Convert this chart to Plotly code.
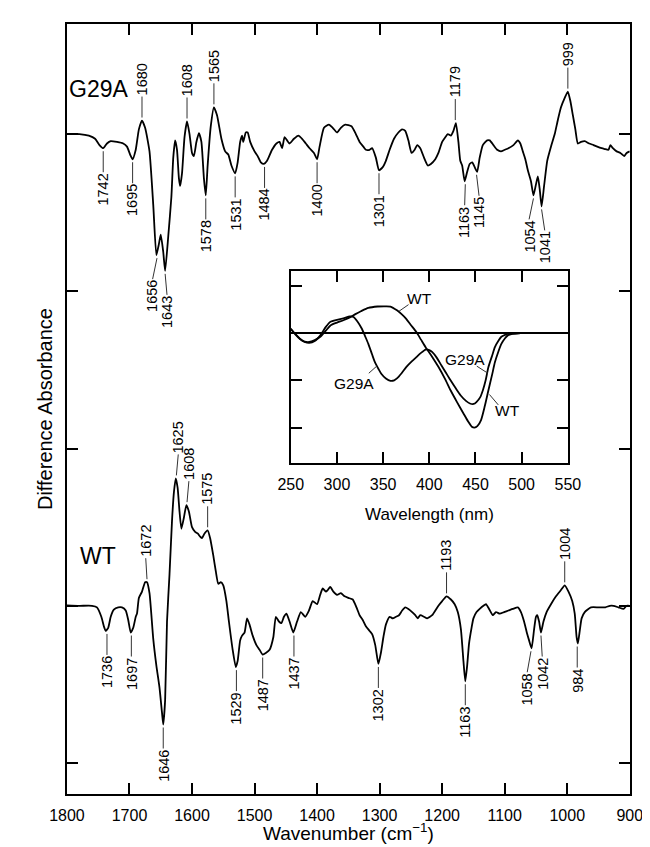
import numpy as np
import plotly.graph_objects as go

# ---------------- main FTIR difference spectra ----------------
g29a_wn = [1800, 1780, 1765, 1755, 1748, 1742, 1736, 1730, 1720, 1710, 1704, 1699, 1695, 1690, 1685, 1680,
           1675, 1668, 1662, 1657, 1653, 1650, 1646, 1643, 1638, 1633, 1630, 1627, 1624, 1621, 1619, 1616,
           1612, 1608, 1604, 1600, 1597, 1593, 1589, 1585, 1581, 1578, 1575, 1570, 1565, 1560, 1553, 1547,
           1542, 1537, 1531, 1527, 1523, 1520, 1518, 1514, 1511, 1507, 1500, 1495, 1490, 1485, 1480, 1472,
           1465, 1460, 1456, 1452, 1448, 1444, 1437, 1430, 1424, 1418, 1412, 1405, 1400, 1396, 1389, 1381,
           1375, 1368, 1362, 1355, 1345, 1338, 1332, 1326, 1322, 1316, 1312, 1306, 1301, 1295, 1290, 1284,
           1277, 1270, 1264, 1259, 1254, 1249, 1244, 1240, 1235, 1229, 1223, 1218, 1211, 1206, 1200, 1195,
           1191, 1186, 1182, 1178, 1174, 1171, 1168, 1164, 1160, 1156, 1152, 1148, 1144, 1140, 1135, 1128,
           1124, 1118, 1112, 1106, 1100, 1094, 1086, 1079, 1075, 1071, 1067, 1063, 1058, 1054, 1050, 1047,
           1044, 1041, 1037, 1032, 1026, 1020, 1015, 1010, 1004, 999, 995, 991, 987, 983, 978, 972,
           965, 958, 952, 945, 940, 934, 931, 927, 921, 915, 909, 905, 900]
g29a_abs = [4.00, 4.00, 3.99, 3.97, 3.93, 3.91, 3.94, 3.955, 3.95, 3.94, 3.92, 3.87, 3.84, 3.90, 4.03, 4.086,
            4.04, 3.89, 3.55, 3.23, 3.30, 3.36, 3.25, 3.13, 3.35, 3.60, 3.85, 3.96, 3.90, 3.72, 3.67, 3.75,
            3.98, 4.08, 4.00, 3.88, 3.86, 3.95, 4.006, 3.95, 3.72, 3.61, 3.80, 4.05, 4.17, 4.12, 3.97, 3.89,
            3.87, 3.80, 3.75, 3.82, 3.95, 3.99, 3.95, 4.01, 4.01, 3.95, 3.89, 3.86, 3.82, 3.81, 3.83, 3.90,
            3.94, 3.95, 3.91, 3.98, 3.96, 3.94, 3.97, 3.99, 3.97, 3.94, 3.91, 3.88, 3.84, 3.92, 4.04, 4.06,
            4.04, 4.01, 4.04, 4.06, 4.05, 4.00, 3.95, 3.92, 3.90, 3.90, 3.91, 3.85, 3.77, 3.79, 3.83, 3.90,
            3.97, 4.01, 4.03, 4.02, 3.96, 3.88, 3.90, 3.93, 3.91, 3.85, 3.80, 3.81, 3.84, 3.88, 3.95, 3.98,
            4.00, 3.99, 4.02, 4.07, 3.95, 3.83, 3.80, 3.70, 3.76, 3.81, 3.82, 3.79, 3.76, 3.85, 3.93, 3.96,
            3.96, 3.93, 3.90, 3.89, 3.90, 3.91, 3.93, 3.96, 3.94, 3.89, 3.84, 3.77, 3.70, 3.61, 3.68, 3.73,
            3.65, 3.54, 3.67, 3.83, 3.92, 4.00, 4.09, 4.17, 4.23, 4.27, 4.21, 4.12, 4.03, 3.94, 3.95, 3.955,
            3.94, 3.93, 3.92, 3.91, 3.905, 3.90, 3.93, 3.91, 3.89, 3.88, 3.86, 3.88, 3.89]

wt_wn = [1800, 1780, 1760, 1752, 1745, 1741, 1738, 1734, 1730, 1725, 1718, 1712, 1706, 1702, 1698, 1694,
         1690, 1688, 1685, 1680, 1675, 1672, 1668, 1662, 1657, 1652, 1648, 1646, 1643, 1640, 1636, 1632,
         1629, 1626, 1623, 1620, 1617, 1613, 1609, 1605, 1600, 1595, 1591, 1587, 1584, 1580, 1575, 1571,
         1566, 1562, 1558, 1554, 1550, 1545, 1541, 1535, 1530, 1527, 1523, 1520, 1516, 1512, 1508, 1503,
         1497, 1492, 1487, 1482, 1476, 1470, 1466, 1461, 1457, 1453, 1449, 1444, 1438, 1432, 1426, 1419,
         1413, 1407, 1400, 1395, 1391, 1386, 1383, 1379, 1374, 1368, 1362, 1356, 1350, 1343, 1337, 1332,
         1327, 1322, 1316, 1312, 1307, 1302, 1298, 1294, 1290, 1284, 1279, 1274, 1269, 1264, 1259, 1254,
         1248, 1243, 1239, 1235, 1229, 1224, 1216, 1206, 1200, 1193, 1186, 1180, 1175, 1170, 1166, 1163,
         1160, 1157, 1153, 1150, 1145, 1140, 1134, 1130, 1125, 1119, 1114, 1108, 1101, 1094, 1087, 1079,
         1074, 1069, 1064, 1061, 1057, 1053, 1050, 1048, 1045, 1042, 1038, 1033, 1026, 1018, 1010, 1004,
         998, 992, 988, 985, 983, 980, 977, 972, 962, 950, 939, 932, 926, 918, 910, 905, 900]
wt_abs = [1.003, 1.00, 1.00, 0.99, 0.93, 0.87, 0.84, 0.86, 0.93, 0.975, 0.99, 0.99, 0.97, 0.91, 0.83, 0.86,
          0.93, 0.95, 1.05, 1.09, 1.15, 1.15, 1.08, 0.79, 0.62, 0.48, 0.32, 0.245, 0.40, 0.90, 1.20, 1.54,
          1.72, 1.81, 1.75, 1.60, 1.49, 1.56, 1.64, 1.60, 1.50, 1.47, 1.46, 1.44, 1.43, 1.46, 1.48, 1.43,
          1.32, 1.22, 1.14, 1.15, 1.13, 1.03, 0.90, 0.72, 0.61, 0.65, 0.78, 0.81, 0.83, 0.92, 0.88, 0.81,
          0.75, 0.72, 0.69, 0.70, 0.72, 0.80, 0.93, 0.90, 0.89, 0.93, 0.95, 0.90, 0.83, 0.90, 0.96, 0.93,
          0.97, 1.03, 1.01, 1.07, 1.11, 1.09, 1.10, 1.12, 1.09, 1.07, 1.08, 1.06, 1.05, 1.04, 0.99, 0.94,
          0.91, 0.87, 0.84, 0.82, 0.75, 0.63, 0.70, 0.80, 0.88, 0.93, 0.92, 0.93, 0.94, 0.97, 0.99, 0.98,
          0.96, 0.94, 0.92, 0.94, 0.93, 0.92, 0.94, 1.00, 1.03, 1.06, 1.04, 1.01, 0.96, 0.85, 0.65, 0.52,
          0.62, 0.76, 0.86, 0.92, 0.96, 0.98, 1.00, 1.01, 0.98, 0.94, 0.96, 0.95, 0.96, 0.97, 0.98, 0.99,
          0.96, 0.90, 0.82, 0.78, 0.73, 0.85, 0.93, 0.94, 0.90, 0.83, 0.90, 0.96, 1.01, 1.06, 1.10, 1.13,
          1.09, 1.03, 0.95, 0.80, 0.76, 0.84, 0.92, 0.96, 0.99, 0.99, 0.99, 1.00, 1.00, 0.99, 0.98, 1.00, 1.00]

# peak labels: band value, label x position, direction (+1 up / -1 down)
g29a_peaks = [1742, 1695, 1680, 1656, 1643, 1608, 1578, 1565, 1531, 1484, 1400, 1301,
              1179, 1163, 1145, 1054, 1041, 999]
g29a_label_pos = [1742, 1695, 1680, 1663, 1640, 1608, 1578, 1565, 1531, 1484, 1400, 1301,
                  1179, 1164, 1141, 1061, 1036, 999]
g29a_dir = [-1, -1, 1, -1, -1, 1, -1, 1, -1, -1, -1, -1, 1, -1, -1, -1, -1, 1]

wt_peaks = [1736, 1697, 1672, 1646, 1625, 1608, 1575, 1529, 1487, 1437, 1302, 1193,
            1163, 1058, 1042, 1004, 984]
wt_label_pos = [1736, 1697, 1674, 1646, 1622, 1605, 1575, 1529, 1487, 1437, 1302, 1193,
                1163, 1064, 1040, 1004, 984]
wt_dir = [-1, -1, 1, -1, 1, 1, 1, -1, -1, -1, -1, 1, -1, -1, -1, 1, -1]

# ---------------- inset: UV-vis difference spectra ----------------
uv_wl_wt = [250, 255, 260, 265, 270, 276, 282, 288, 293, 300, 307, 314, 320, 326, 334, 344, 352, 358,
            365, 370, 375, 380, 386, 391, 396, 403, 410, 417, 423, 430, 437, 442, 446, 449, 452, 456,
            460, 464, 468, 471, 475, 478, 482, 485, 490, 499, 510, 520, 530, 540, 550]
uv_wt = [0.09, -0.02, -0.12, -0.18, -0.19, -0.15, -0.08, 0.05, 0.16, 0.22, 0.27, 0.33, 0.40, 0.46, 0.53,
         0.56, 0.565, 0.56, 0.48, 0.40, 0.30, 0.17, 0.02, -0.14, -0.30, -0.50, -0.72, -0.97, -1.21, -1.46,
         -1.70, -1.87, -1.98, -2.00, -1.97, -1.84, -1.55, -1.21, -0.88, -0.62, -0.38, -0.23, -0.11, -0.05,
         -0.02, 0.0, 0.0, 0.0, 0.0, 0.0, 0.0]
uv_wl_g29a = [250, 255, 260, 265, 270, 276, 282, 288, 293, 300, 307, 314, 318, 322, 327, 331, 334, 338,
              341, 345, 348, 353, 358, 362, 365, 370, 375, 381, 386, 391, 396, 400, 403, 408, 413, 418,
              423, 429, 434, 440, 444, 448, 451, 455, 458, 461, 464, 468, 471, 475, 478, 482, 485, 490,
              499, 520, 550]
uv_g29a = [0.09, -0.03, -0.13, -0.19, -0.21, -0.17, -0.05, 0.13, 0.24, 0.28, 0.31, 0.35, 0.34, 0.25, 0.09,
           -0.09, -0.23, -0.45, -0.61, -0.76, -0.86, -0.96, -1.01, -1.00, -0.96, -0.85, -0.72, -0.60, -0.51,
           -0.42, -0.35, -0.36, -0.40, -0.52, -0.68, -0.84, -1.00, -1.18, -1.32, -1.44, -1.49, -1.50, -1.46,
           -1.36, -1.21, -1.00, -0.72, -0.48, -0.30, -0.16, -0.08, -0.04, -0.02, -0.01, 0.0, 0.0, 0.0]

FONT = "Liberation Sans, Arial, sans-serif"
W, H = 650, 847

fig = go.Figure()

for xs, ys in ((g29a_wn, g29a_abs), (wt_wn, wt_abs)):
    fig.add_trace(go.Scatter(x=xs, y=ys, mode="lines", xaxis="x", yaxis="y",
                             line=dict(color="black", width=1.8, shape="spline", smoothing=0.5),
                             showlegend=False, hoverinfo="skip"))
for xs, ys in ((uv_wl_wt, uv_wt), (uv_wl_g29a, uv_g29a)):
    fig.add_trace(go.Scatter(x=xs, y=ys, mode="lines", xaxis="x2", yaxis="y2",
                             line=dict(color="black", width=1.8, shape="spline", smoothing=0.6),
                             showlegend=False, hoverinfo="skip"))

annotations = []
shapes = []

GAP, LEAD = 3, 21
LBL = 14.5


def local_ext(wn, vals, center, d):
    wn = np.asarray(wn, float)
    vals = np.asarray(vals, float)
    m = np.abs(wn - center) <= 4
    if not m.any():
        return float(np.interp(center, wn[::-1], vals[::-1]))
    return float(vals[m].max() if d > 0 else vals[m].min())


def add_labels(wn, vals, peaks, pos, dirs):
    for p, lp, d in zip(peaks, pos, dirs):
        v = local_ext(wn, vals, p, d)
        txt = str(p)
        half = 0.556 * LBL * len(txt) / 2
        shapes.append(dict(type="line", xref="x", yref="y", ysizemode="pixel", yanchor=v,
                           x0=p, x1=lp, y0=d * GAP, y1=d * (GAP + LEAD),
                           line=dict(color="#333", width=1)))
        annotations.append(dict(x=lp, y=v, xref="x", yref="y", text=txt, showarrow=False,
                                textangle=-90, xanchor="center", yanchor="middle",
                                yshift=d * (GAP + LEAD + 1 + half),
                                font=dict(family=FONT, size=LBL, color="black")))


add_labels(g29a_wn, g29a_abs, g29a_peaks, g29a_label_pos, g29a_dir)
add_labels(wt_wn, wt_abs, wt_peaks, wt_label_pos, wt_dir)

# sample names on main panel
annotations.append(dict(x=1749.5, y=4.286, xref="x", yref="y", text="G29A", showarrow=False,
                        xanchor="center", yanchor="middle", font=dict(family=FONT, size=23, color="black")))
annotations.append(dict(x=1750.5, y=1.316, xref="x", yref="y", text="WT", showarrow=False,
                        xanchor="center", yanchor="middle", font=dict(family=FONT, size=23, color="black")))

# inset curve labels with leader lines
inset_labels = [("WT", 389, 0.74, 377.5, 0.60, 367.2, 0.46),
                ("G29A", 319, -1.06, 334.5, -0.85, 343.1, -0.70),
                ("G29A", 438.7, -0.55, 451.4, -0.70, 463.4, -0.85),
                ("WT", 485, -1.64, 474.7, -1.52, 465.1, -1.30)]
for t, tx, ty, lx0, ly0, lx1, ly1 in inset_labels:
    annotations.append(dict(x=tx, y=ty, xref="x2", yref="y2", text=t, showarrow=False,
                            xanchor="center", yanchor="middle", font=dict(family=FONT, size=15.5, color="black")))
    shapes.append(dict(type="line", xref="x2", yref="y2", x0=lx0, y0=ly0, x1=lx1, y1=ly1,
                       line=dict(color="#333", width=1)))

# axis titles
annotations.append(dict(x=20 / W, y=1 - 401 / H, xref="paper", yref="paper", text="Difference Absorbance",
                        showarrow=False, textangle=-90, xanchor="center", yanchor="middle",
                        font=dict(family=FONT, size=20, color="black")))
annotations.append(dict(x=338.5 / W, y=1 - 824 / H, xref="paper", yref="paper",
                        text="Wavenumber (cm<sup>−1</sup>)", showarrow=False, xanchor="center",
                        yanchor="middle", font=dict(family=FONT, size=19, color="black")))
annotations.append(dict(x=423.5 / W, y=1 - 507 / H, xref="paper", yref="paper", text="Wavelength (nm)",
                        showarrow=False, xanchor="center", yanchor="middle",
                        font=dict(family=FONT, size=17, color="black")))

axis_common = dict(showline=True, linecolor="black", linewidth=2, mirror="ticks", ticks="inside",
                   ticklen=11, tickwidth=2, tickcolor="black", showgrid=False, zeroline=False,
                   tickfont=dict(family=FONT, size=16, color="black"))

fig.update_layout(
    width=W, height=H, margin=dict(l=0, r=0, t=0, b=0),
    paper_bgcolor="white", plot_bgcolor="white", showlegend=False,
    xaxis=dict(domain=[43 / W, 634 / W], range=[1800, 900], tickvals=list(range(900, 1801, 100)),
               anchor="y", ticklabelstandoff=6, **axis_common),
    yaxis=dict(domain=[1 - 786 / H, 1 - 16 / H], range=[-0.197, 4.70], tickvals=[0, 1, 2, 3, 4],
               showticklabels=False, anchor="x", **axis_common),
    xaxis2=dict(domain=[278 / W, 569 / W], range=[250, 550], tickvals=list(range(250, 551, 50)),
                anchor="y2", ticklabelstandoff=6, **axis_common),
    yaxis2=dict(domain=[1 - 455 / H, 1 - 263 / H], range=[-2.748, 1.311], tickvals=[-2, -1, 0, 1],
                showticklabels=False, anchor="x2",
                **{**axis_common, "zeroline": True}, zerolinecolor="black", zerolinewidth=1.6),
    annotations=annotations,
    shapes=shapes,
)

fig.write_html("out.html")
